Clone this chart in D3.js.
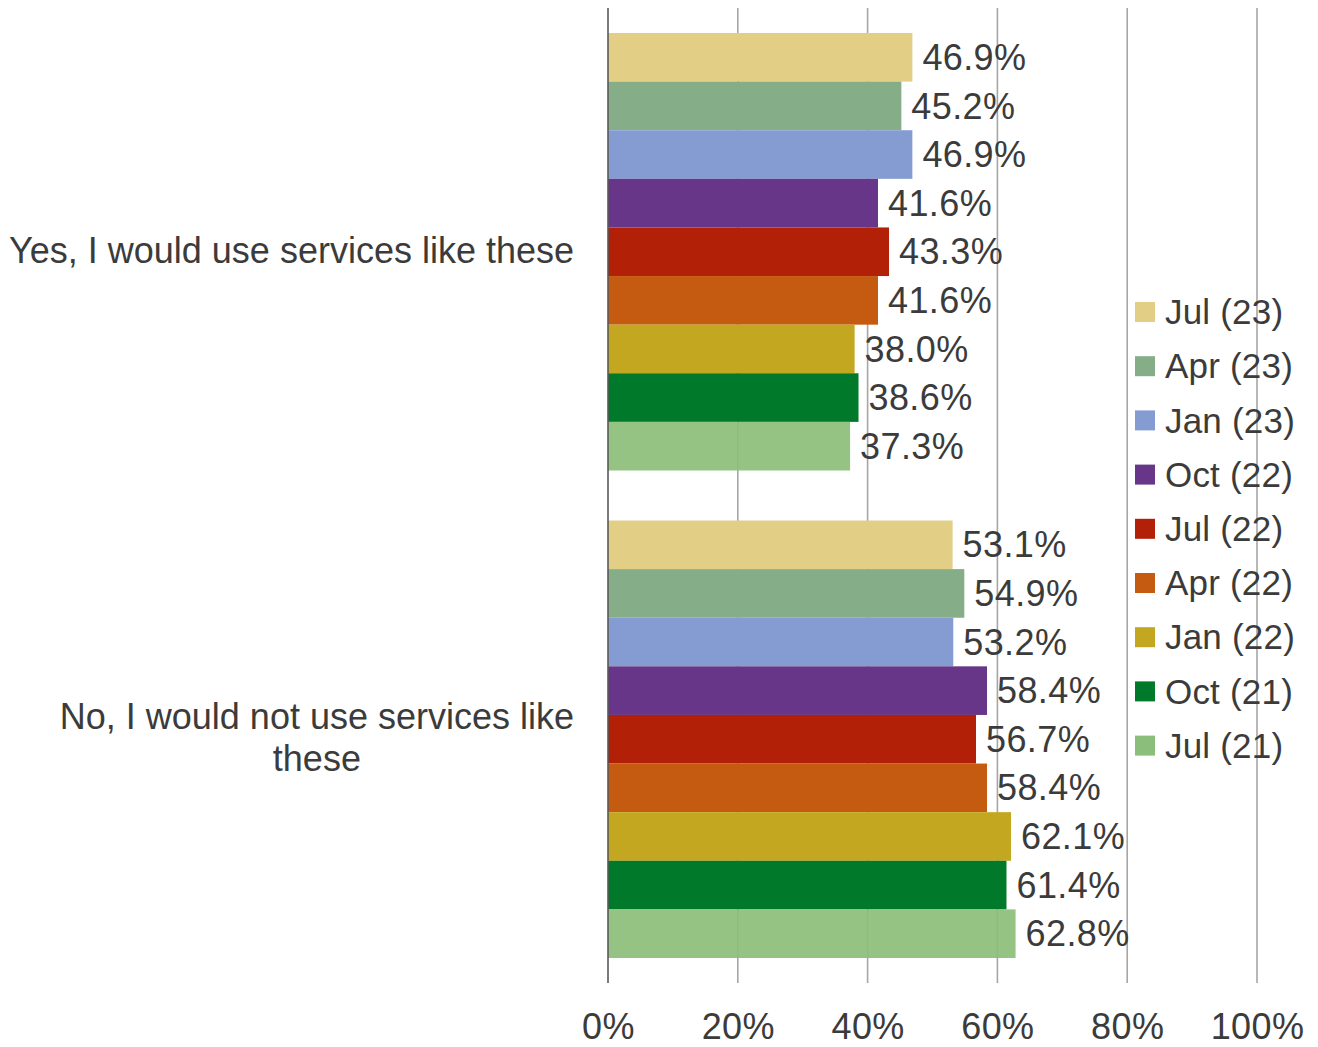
<!DOCTYPE html>
<html>
<head>
<meta charset="utf-8">
<script src="https://cdn.jsdelivr.net/npm/d3@7"></script>
<style>
  html, body { margin: 0; padding: 0; background: #fff; }
  svg text { font-family: "Liberation Sans", Arial, sans-serif; fill: #3b3b3b; }
</style>
</head>
<body>
<svg id="chart" width="1318" height="1047"></svg>
<script>
// Survey answers, one group of bars per answer
const categories = [
  ["Yes, I would use services like these"],
  ["No, I would not use services like", "these"]
];
// Survey waves, newest first (top bar in each group)
const waves = ["Jul (23)", "Apr (23)", "Jan (23)", "Oct (22)", "Jul (22)", "Apr (22)", "Jan (22)", "Oct (21)", "Jul (21)"];
const waveColors = ["#E3CE86", "#84AD88", "#859CD3", "#683688", "#B22008", "#C55A11", "#C4A720", "#007A2A", "#8BBE7A"];
// Share of respondents (%) per wave
const yesValues = [46.9, 45.2, 46.9, 41.6, 43.3, 41.6, 38.0, 38.6, 37.3];
const noValues  = [53.1, 54.9, 53.2, 58.4, 56.7, 58.4, 62.1, 61.4, 62.8];
const tickValues = [0, 20, 40, 60, 80, 100];

const seriesByCategory = [yesValues, noValues];

const svg = d3.select("#chart");
const plot = { left: 608, right: 1257, top: 8, bottom: 983 };

const x = d3.scaleLinear().domain([0, 100]).range([plot.left, plot.right]);
const y0 = d3.scaleBand()
  .domain(d3.range(categories.length))
  .range([plot.top, plot.bottom])
  .paddingInner(0.1026)
  .paddingOuter(0.0513);
const y1 = d3.scaleBand()
  .domain(d3.range(waves.length))
  .range([0, y0.bandwidth()])
  .padding(0);

// Vertical gridlines
svg.append("g")
  .selectAll("line")
  .data(tickValues.slice(1))
  .join("line")
  .attr("x1", d => x(d)).attr("x2", d => x(d))
  .attr("y1", plot.top).attr("y2", plot.bottom)
  .attr("stroke", "#a6a6a6")
  .attr("stroke-width", 1.6);

// Bars
const groups = svg.append("g")
  .selectAll("g")
  .data(seriesByCategory)
  .join("g")
  .attr("transform", (d, i) => `translate(0,${y0(i)})`);

groups.selectAll("rect")
  .data(d => d.map((v, j) => ({ v, j })))
  .join("rect")
  .attr("x", x(0))
  .attr("y", d => y1(d.j))
  .attr("width", d => x(d.v) - x(0))
  .attr("height", y1.bandwidth())
  .attr("fill", d => waveColors[d.j])
  .attr("fill-opacity", d => d.j === waves.length - 1 ? 0.92 : 1);

// Value labels
groups.selectAll("text")
  .data(d => d.map((v, j) => ({ v, j })))
  .join("text")
  .attr("x", d => x(d.v) + 10)
  .attr("y", d => y1(d.j) + y1.bandwidth() / 2)
  .attr("dy", "0.35em")
  .attr("font-size", 36)
  .attr("letter-spacing", 0.4)
  .text(d => d.v.toFixed(1) + "%");

// Left axis line
svg.append("line")
  .attr("x1", x(0)).attr("x2", x(0))
  .attr("y1", plot.top).attr("y2", plot.bottom)
  .attr("stroke", "#595959")
  .attr("stroke-width", 1.6);

// Bottom tick labels
const xAxis = d3.axisBottom(x)
  .tickValues(tickValues)
  .tickFormat(d => d + "%")
  .tickSize(0)
  .tickPadding(0);
const gx = svg.append("g")
  .attr("transform", `translate(0,${plot.bottom + 30})`)
  .call(xAxis);
gx.select(".domain").remove();
gx.selectAll("text")
  .attr("font-size", 36)
  .attr("letter-spacing", 0.4)
  .attr("fill", "#3b3b3b")
  .style("font-family", '"Liberation Sans", Arial, sans-serif');

// Category labels: right-aligned block, lines centred inside it
const labelRight = 574;
const lineGap = 42;
categories.forEach((lines, i) => {
  const g = svg.append("g");
  const cy = y0(i) + y0.bandwidth() / 2;
  const texts = lines.map((ln, k) => g.append("text")
    .attr("font-size", 36)
    .attr("text-anchor", "middle")
    .attr("y", cy + (k - (lines.length - 1) / 2) * lineGap)
    .attr("dy", "0.3em")
    .text(ln));
  const w = d3.max(texts, t => t.node().getComputedTextLength());
  texts.forEach(t => t.attr("x", labelRight - w / 2));
});

// Legend
const legend = svg.append("g")
  .selectAll("g")
  .data(waves)
  .join("g")
  .attr("transform", (d, i) => `translate(1135,${312 + i * 54.2})`);
legend.append("rect")
  .attr("x", 0).attr("y", -10)
  .attr("width", 20).attr("height", 20)
  .attr("fill", (d, i) => waveColors[i]);
legend.append("text")
  .attr("x", 30)
  .attr("dy", "0.35em")
  .attr("font-size", 35)
  .attr("letter-spacing", 0.2)
  .text(d => d);
</script>
</body>
</html>
